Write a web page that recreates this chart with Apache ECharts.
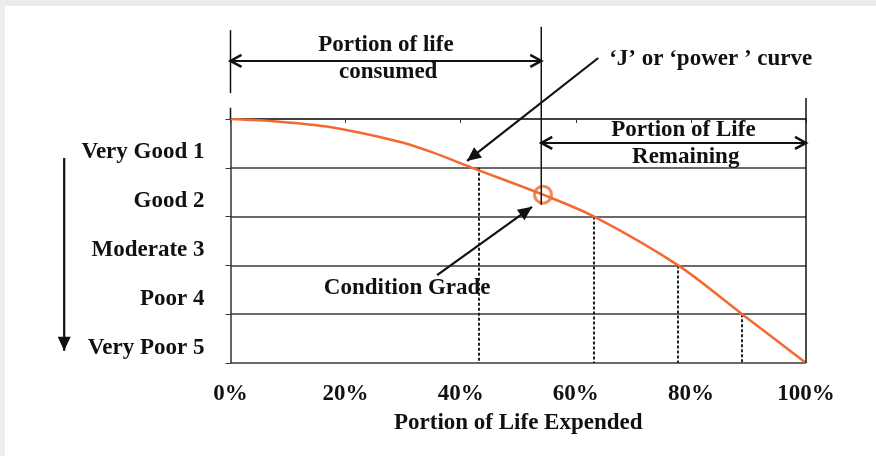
<!DOCTYPE html>
<html>
<head>
<meta charset="utf-8">
<script src="https://cdn.jsdelivr.net/npm/echarts@6/dist/echarts.min.js"></script>
<style>
  html, body { margin: 0; padding: 0; background: #fff; }
  #main { width: 876px; height: 456px; }
</style>
</head>
<body>
<div id="main"></div>
<script>
// data
const xTicks = [0, 20, 40, 60, 80, 100];
const grades = ['Very Good 1', 'Good 2', 'Moderate 3', 'Poor 4', 'Very Poor 5'];
// curve: portion of life expended (%) vs condition level (0 = top line, 5 = bottom)
const lifeExpended = [0, 8, 17, 29.5, 35, 42, 54.3, 63.2, 77.8, 88.9, 100];
const conditionLevel = [0, 0.05, 0.16, 0.47, 0.68, 1.0, 1.55, 2.0, 3.0, 4.0, 5.0];
// dashed drop lines from the grade boundaries down to the axis
const dropX = [43.2, 63.2, 77.8, 88.9];
const dropLevel = [1, 2, 3, 4];
// current condition point (circled) and split between consumed / remaining
const currentPoint = [54.3, 1.55];
const splitX = 54;

const font = '"Liberation Serif", "Times New Roman", serif';
const ink = '#111';
const orange = '#f26a30';
const fs = 23;

let chart = echarts.init(document.getElementById('main'));

let option = {
  animation: false,
  backgroundColor: '#fff',
  grid: { left: 230.5, right: 70, top: 119, bottom: 93 },
  xAxis: {
    type: 'value',
    min: xTicks[0],
    max: xTicks[xTicks.length - 1],
    interval: xTicks[1] - xTicks[0],
    name: 'Portion of Life Expended',
    nameLocation: 'middle',
    nameGap: 49,
    nameTextStyle: { fontFamily: font, fontWeight: 'bold', fontSize: fs, color: ink },
    axisLine: { lineStyle: { color: '#333', width: 1.5 } },
    axisTick: { length: 4, lineStyle: { color: '#333' } },
    axisLabel: {
      formatter: '{value}%',
      margin: 20,
      fontFamily: font,
      fontWeight: 'bold',
      fontSize: fs,
      color: ink
    },
    splitLine: { show: false }
  },
  yAxis: [
    {
      type: 'value',
      min: 0,
      max: 5,
      interval: 1,
      inverse: true,
      position: 'left',
      axisLine: { show: true, lineStyle: { color: '#333', width: 1.5 } },
      axisTick: { show: true, length: 5, lineStyle: { color: '#333' } },
      axisLabel: { show: false },
      splitLine: { show: true, lineStyle: { color: '#3a3a3a', width: 1.5 } }
    },
    {
      type: 'category',
      data: grades,
      inverse: true,
      position: 'left',
      axisLine: { show: false },
      axisTick: { show: false },
      splitLine: { show: false },
      axisLabel: {
        margin: 26,
        verticalAlign: 'top',
        lineHeight: 18,
        fontFamily: font,
        fontWeight: 'bold',
        fontSize: fs,
        color: ink
      }
    }
  ],
  series: [
    {
      type: 'line',
      data: lifeExpended.map((x, i) => [x, conditionLevel[i]]),
      smooth: 0.3,
      showSymbol: false,
      z: 5,
      lineStyle: { color: orange, width: 2.5 },
      markLine: {
        silent: true,
        symbol: 'none',
        label: { show: false },
        lineStyle: { color: '#222', width: 2, type: [3, 2] },
        data: dropX.map((x, i) => [{ coord: [x, dropLevel[i]] }, { coord: [x, 5] }])
      }
    },
    {
      type: 'scatter',
      data: [currentPoint],
      symbol: 'circle',
      symbolSize: 17,
      z: 6,
      itemStyle: { color: 'rgba(0,0,0,0)', borderColor: orange, borderWidth: 3 }
    }
  ]
};
chart.setOption(option);

// annotations, placed in data space through the chart's own axes
function px(x, y) {
  return chart.convertToPixel({ seriesIndex: 0 }, [x, y]);
}
function seg(a, b, w) {
  return { type: 'line', z: 10, shape: { x1: a[0], y1: a[1], x2: b[0], y2: b[1] },
    style: { stroke: ink, lineWidth: w || 1.5 } };
}
function head(tip, from, filled) {
  let dx = tip[0] - from[0], dy = tip[1] - from[1];
  let d = Math.sqrt(dx * dx + dy * dy);
  let ux = dx / d, uy = dy / d;
  let len = filled ? 14 : 11, half = filled ? 6.5 : 6;
  let bx = tip[0] - ux * len, by = tip[1] - uy * len;
  let p1 = [bx - uy * half, by + ux * half];
  let p2 = [bx + uy * half, by - ux * half];
  if (filled) {
    return { type: 'polygon', z: 10, shape: { points: [p1, tip, p2] }, style: { fill: ink } };
  }
  return { type: 'polyline', z: 10, shape: { points: [p1, tip, p2] },
    style: { stroke: ink, lineWidth: 2.5, fill: null } };
}
function arrow(from, to, filled, both) {
  let out = [seg(from, to, filled ? 2.2 : 2), head(to, from, filled)];
  if (both) out.push(head(from, to, filled));
  return out;
}
function label(text, x, y, align) {
  let p = px(x, y);
  return { type: 'text', z: 11, x: p[0], y: p[1],
    style: { text: text, fontFamily: font, fontWeight: 'bold', fontSize: fs, fill: ink,
      align: align || 'center', verticalAlign: 'middle' } };
}

let g = [];
// light frame strips of the original scan
g.push({ type: 'rect', z: 0, shape: { x: 0, y: 0, width: 876, height: 6 }, style: { fill: '#ebebeb' } });
g.push({ type: 'rect', z: 0, shape: { x: 0, y: 0, width: 5, height: 456 }, style: { fill: '#eeeeee' } });

// vertical guide lines
g.push(seg(px(0, -1.82), px(0, -0.53)));
g.push(seg(px(0, -0.23), px(0, 0)));
g.push(seg(px(splitX, -1.89), px(splitX, 1.76)));
g.push(seg(px(100, -0.43), px(100, 5)));

// consumed / remaining double arrows
g = g.concat(arrow(px(0, -1.19), px(splitX, -1.19), false, true));
g = g.concat(arrow(px(splitX, 0.49), px(100, 0.49), false, true));

// pointers
g = g.concat(arrow(px(63.9, -1.25), px(41.1, 0.86), true));
g = g.concat(arrow(px(35.9, 3.2), px(52.4, 1.8), true));
g = g.concat(arrow(px(-28.9, 0.8), px(-28.9, 4.75), true));

// texts
g.push(label('Portion of life', 27.0, -1.52));
g.push(label('consumed', 27.4, -0.96));
g.push(label('\u2018J\u2019 or \u2018power \u2019 curve', 65.8, -1.23, 'left'));
g.push(label('Portion of Life', 78.7, 0.22));
g.push(label('Remaining', 79.1, 0.77));
g.push(label('Condition Grade', 30.7, 3.46));

chart.setOption({ graphic: g });
</script>
</body>
</html>
